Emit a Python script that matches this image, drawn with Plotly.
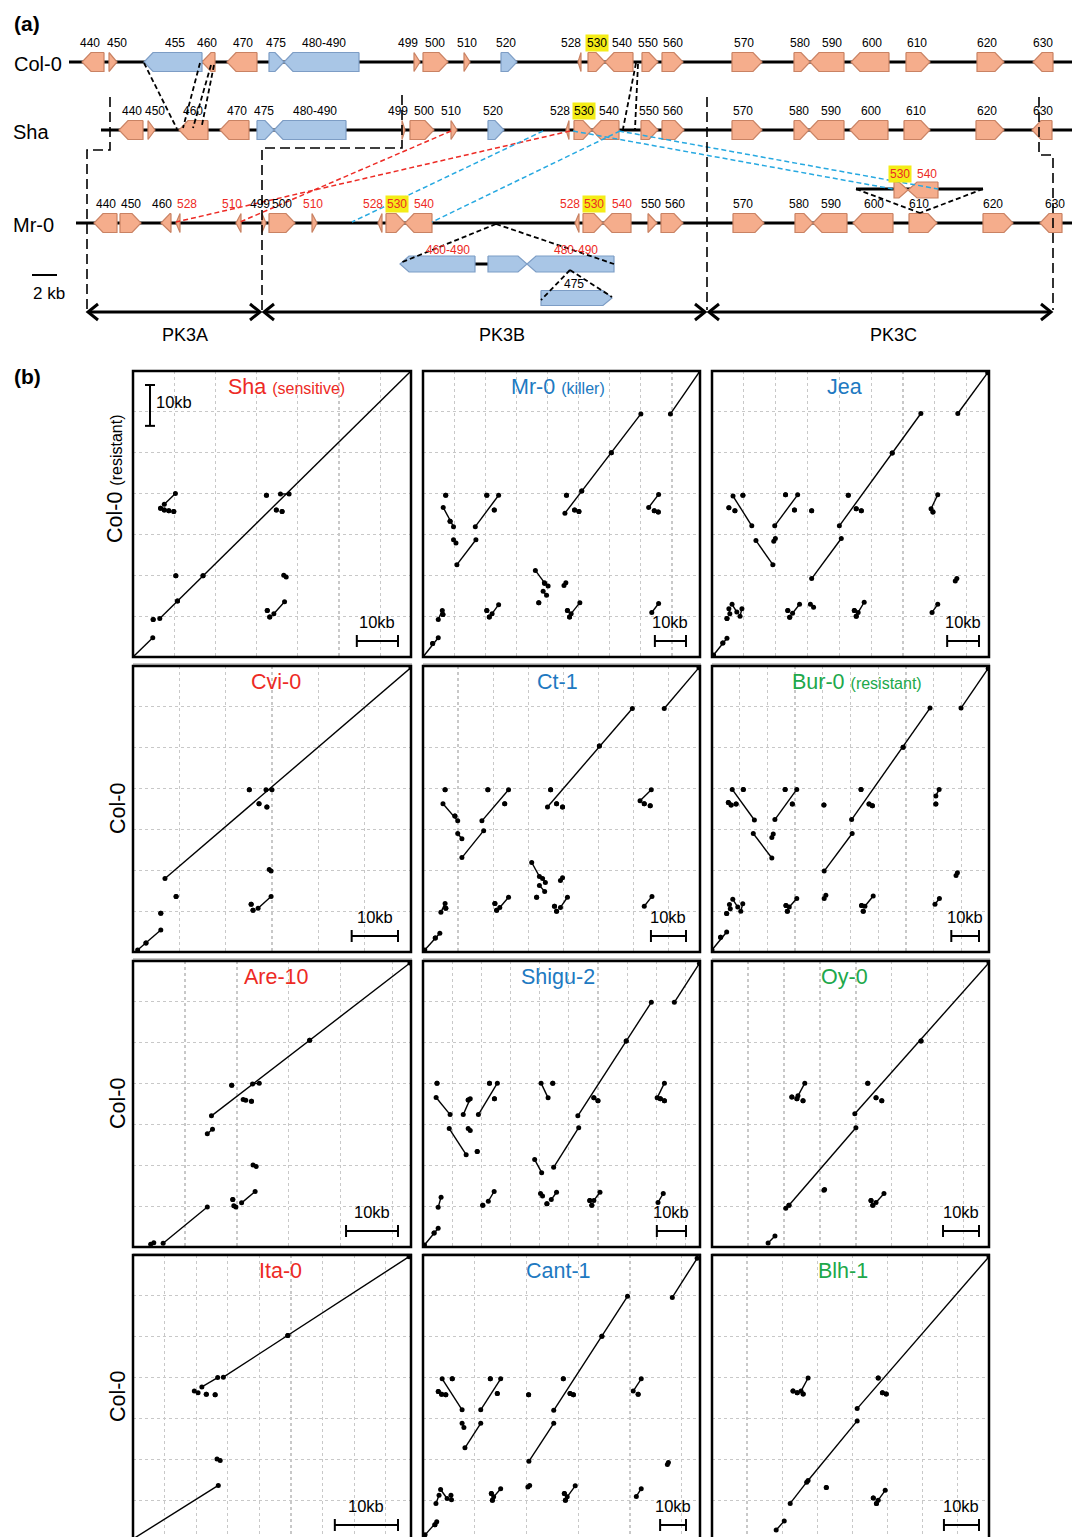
import plotly.graph_objects as go

FW, FH = 1072, 1537
FONT = "Liberation Sans, Arial, sans-serif"
RED, BLUE, GREEN, CYAN = "#ED2A24", "#2079C1", "#20A84A", "#27A9E1"
S_FILL, S_LINE = "#F5AD8C", "#C98263"
B_FILL, B_LINE = "#A9C6E6", "#7D9DC5"
HILITE = "#F4EC17"

# ---------------- (a) gene maps (diagram units) ----------------
ROW_NAMES = ["Col-0", "Sha", "Mr-0"]
ROW_Y = [62, 130, 223]
ROW_START = [69, 101, 76]

# (start, end, strand, family)  family: s = salmon, b = blue
COL0_GENES = [(82, 104, -1, "s"), (109, 117, 1, "s"), (144, 202, -1, "b"), (202, 215, -1, "s"),
              (227, 257, -1, "s"), (269, 284, 1, "b"), (284, 359, -1, "b"), (414, 420, 1, "s"),
              (423, 448, 1, "s"), (464, 470, 1, "s"), (501, 517, 1, "b"), (578, 581, -1, "s"),
              (588, 605, 1, "s"), (605, 633, -1, "s"), (642, 658, 1, "s"), (662, 683, 1, "s"),
              (732, 762, 1, "s"), (794, 810, 1, "s"), (810, 844, -1, "s"), (851, 889, -1, "s"),
              (906, 930, 1, "s"), (977, 1004, 1, "s"), (1033, 1053, -1, "s")]
SHA_GENES = [(119, 143, -1, "s"), (148, 155, 1, "s"), (179, 208, -1, "s"), (220, 249, -1, "s"),
             (257, 274, 1, "b"), (274, 346, -1, "b"), (402, 405, 1, "s"), (410, 434, 1, "s"),
             (451, 457, 1, "s"), (488, 504, 1, "b"), (566, 569, -1, "s"), (574, 592, 1, "s"),
             (592, 619, -1, "s"), (641, 658, 1, "s"), (662, 684, 1, "s"), (732, 762, 1, "s"),
             (794, 809, 1, "s"), (809, 844, -1, "s"), (850, 888, -1, "s"), (904, 930, 1, "s"),
             (976, 1004, 1, "s"), (1032, 1052, -1, "s")]
MR0_GENES = [(94, 117, -1, "s"), (120, 141, 1, "s"), (161, 171, -1, "s"), (176, 180, -1, "s"),
             (236, 241, -1, "s"), (262, 266, 1, "s"), (269, 295, 1, "s"), (312, 317, 1, "s"),
             (378, 382, -1, "s"), (386, 405, 1, "s"), (405, 432, -1, "s"), (575, 579, -1, "s"),
             (583, 603, 1, "s"), (603, 631, -1, "s"), (648, 657, 1, "s"), (661, 683, 1, "s"),
             (733, 764, 1, "s"), (795, 813, 1, "s"), (813, 847, -1, "s"), (853, 893, -1, "s"),
             (909, 937, 1, "s"), (983, 1013, 1, "s"), (1040, 1062, -1, "s")]

# label position, text, style (k black, r red, h highlighted, hr red highlighted)
COL0_LABELS = [(90, "440", "k"), (117, "450", "k"), (175, "455", "k"), (207, "460", "k"), (243, "470", "k"),
               (276, "475", "k"), (324, "480-490", "k"), (408, "499", "k"), (435, "500", "k"), (467, "510", "k"),
               (506, "520", "k"), (571, "528", "k"), (597, "530", "h"), (622, "540", "k"), (648, "550", "k"),
               (673, "560", "k"), (744, "570", "k"), (800, "580", "k"), (832, "590", "k"), (872, "600", "k"),
               (917, "610", "k"), (987, "620", "k"), (1043, "630", "k")]
SHA_LABELS = [(132, "440", "k"), (155, "450", "k"), (193, "460", "k"), (237, "470", "k"), (264, "475", "k"),
              (315, "480-490", "k"), (398, "499", "k"), (424, "500", "k"), (451, "510", "k"), (493, "520", "k"),
              (560, "528", "k"), (584, "530", "h"), (609, "540", "k"), (649, "550", "k"), (673, "560", "k"),
              (743, "570", "k"), (799, "580", "k"), (831, "590", "k"), (871, "600", "k"), (916, "610", "k"),
              (987, "620", "k"), (1043, "630", "k")]
MR0_LABELS = [(106, "440", "k"), (131, "450", "k"), (162, "460", "k"), (187, "528", "r"), (232, "510", "r"),
              (260, "499", "k"), (282, "500", "k"), (313, "510", "r"), (373, "528", "r"), (397, "530", "hr"),
              (424, "540", "r"), (570, "528", "r"), (594, "530", "hr"), (622, "540", "r"), (651, "550", "k"),
              (675, "560", "k"), (743, "570", "k"), (799, "580", "k"), (831, "590", "k"), (874, "600", "k"),
              (919, "610", "k"), (993, "620", "k"), (1055, "630", "k")]

# insertions
MR0_INS_A = [(400, 475, -1, "b"), (488, 527, 1, "b"), (527, 614, -1, "b")]
MR0_INS_B = [(541, 612, 1, "b")]
SHA_INS = [(894, 908, 1, "s"), (908, 938, -1, "s")]
INS_LABELS = [(448, 250, "460-490", "r"), (576, 250, "480-490", "r"), (574, 284, "475", "k"),
              (900, 174, "530", "hr"), (927, 174, "540", "r")]

BLACK_LINKS = [(144, 63, 177, 129), (200, 63, 183, 128), (211, 65, 193, 128), (214, 65, 202, 125),
               (636, 63, 623, 129), (638, 64, 635, 129), (496, 224, 400, 263), (496, 224, 614, 264),
               (570, 270, 541, 300), (570, 270, 612, 297), (856, 189, 920, 213), (983, 189, 920, 213)]
RED_LINKS = [(451, 131, 240, 222), (570, 131, 176, 222)]
CYAN_LINKS = [(543, 131, 352, 222), (620, 131, 432, 222), (573, 131, 893, 189), (619, 131, 938, 189)]

BOUNDARIES = [[(110, 97), (110, 150), (87, 150), (87, 310)],
              [(402, 95), (402, 148), (262, 148), (262, 310)],
              [(707, 97), (707, 310)],
              [(1039, 97), (1039, 155), (1053, 155), (1053, 310)]]
REGIONS = [("PK3A", 88, 260, 185), ("PK3B", 264, 705, 502), ("PK3C", 709, 1051, 893)]

# ---------------- (b) dot plots ----------------
NAMES = ["Sha", "Mr-0", "Jea", "Cvi-0", "Ct-1", "Bur-0", "Are-10", "Shigu-2", "Oy-0", "Ita-0", "Cant-1", "Blh-1"]
SUBS = ["(sensitive)", "(killer)", "", "", "", "(resistant)", "", "", "", "", "", ""]
CLASS = ["r", "b", "b", "r", "b", "g", "r", "b", "g", "r", "b", "g"]
QUERY_KB = [67.5, 89, 87, 60, 79, 100, 53.5, 95, 77, 44, 107, 79]   # x-axis length (kb)
GRID_KB = [10, 10, 10, 10, 10, 10, 10, 10, 10, 5, 20, 10]
COL0_KB = 70

SHA_SEGS = [(0, 0, 4.8, 4.7), (4.9, 9.2, 4.9, 9.2), (6.5, 9.4, 67.5, 70), (10.8, 13.7, 10.8, 13.7),
            (17.0, 19.9, 17.0, 19.9), (35.8, 39.9, 37.9, 39.9), (7.6, 37.4, 10.3, 40.0), (6.7, 36.4, 6.7, 36.4),
            (7.6, 36.0, 7.6, 36.0), (8.7, 35.8, 8.7, 35.8), (9.9, 35.6, 9.9, 35.6), (32.4, 39.6, 32.4, 39.6),
            (34.8, 36.0, 34.8, 36.0), (36.2, 35.6, 36.2, 35.6), (10.4, 19.9, 10.4, 19.9), (36.6, 20.0, 37.2, 19.6),
            (34.2, 10.6, 36.8, 13.5), (32.6, 11.4, 32.6, 11.4), (33.2, 9.8, 33.2, 9.8)]
MR0_SEGS = [(0, 0, 4.9, 4.7), (3.1, 3.3, 3.1, 3.3), (79.5, 59.5, 89, 70), (45.6, 35.2, 70, 59.5),
            (51, 40.6, 51, 40.6), (60.5, 50, 60.5, 50), (46.1, 39.6, 46.1, 39.6), (48.7, 36, 48.7, 36),
            (50.1, 35.6, 50.1, 35.6), (7.3, 39.6, 7.3, 39.6), (6.5, 36.6, 9.8, 31.9), (8.7, 33.2, 8.7, 33.2),
            (20.5, 39.6, 20.5, 39.6), (16.8, 31.9, 24.3, 39.6), (22.9, 36, 22.9, 36), (9.8, 28.7, 10.6, 27.9),
            (10.9, 22.6, 17, 28.7), (36.1, 21.2, 39.0, 18.2), (39.1, 18.0, 40.2, 17.4), (38.6, 16.1, 39.7, 15.1),
            (37.2, 13.3, 37.2, 13.3), (45.3, 17.5, 45.9, 18.2), (4.9, 9.2, 6.2, 11.4), (6.4, 10.4, 6.4, 10.4),
            (20.5, 11.4, 20.5, 11.4), (21.3, 9.8, 21.3, 9.8), (22.2, 10.6, 24.3, 12.8), (46.4, 11.4, 46.4, 11.4),
            (47.1, 9.8, 47.1, 9.8), (47.6, 10.6, 50.4, 13.3), (73.5, 10.9, 75.7, 13.1), (72.5, 36.6, 75.7, 39.8),
            (74.3, 35.8, 74.3, 35.8), (75.6, 35.5, 75.6, 35.5)]
JEA_SEGS = [(0.5, 0.5, 4.7, 4.6), (3.4, 3.4, 3.4, 3.4), (77.2, 59.6, 86.6, 69.6), (40, 32.1, 65.6, 59.6),
            (56.6, 49.9, 56.6, 49.9), (42.8, 39.6, 42.8, 39.6), (45.3, 36.3, 45.3, 36.3), (46.9, 35.8, 46.9, 35.8),
            (6.6, 39.4, 12.5, 32.1), (9.7, 39.6, 9.7, 39.6), (5.3, 36.5, 5.3, 36.5), (7.2, 35.8, 7.2, 35.8),
            (19.7, 32.1, 26.9, 39.7), (23.1, 39.7, 23.1, 39.7), (25.9, 36, 25.9, 36), (31.3, 35.8, 31.3, 35.8),
            (68.8, 36.3, 70.9, 39.7), (69.4, 35.5, 69.4, 35.5), (13.8, 28.5, 19.1, 22.6), (19.4, 28.3, 19.9, 29.0),
            (31.3, 19.2, 40.6, 29), (76.4, 18.6, 76.9, 19.2), (4.7, 9.4, 4.7, 9.4), (5.3, 11.8, 5.6, 10.6),
            (6.3, 12.9, 7.8, 11.0), (8.8, 10.0, 9.4, 11.8), (23.8, 11.4, 23.8, 11.4), (24.4, 9.7, 24.4, 9.7),
            (25.3, 10.7, 27.5, 12.9), (30.9, 12.9, 31.9, 12.2), (44.7, 11.4, 44.7, 11.4), (45.3, 10, 45.3, 10),
            (45.9, 10.9, 47.8, 13.4), (69.1, 10.9, 70.9, 12.9)]
CVI0_SEGS = [(1.0, 0.5, 6.0, 5.4), (2.8, 2.2, 2.8, 2.2), (6.0, 9.5, 6.0, 9.5), (9.3, 13.6, 9.3, 13.6),
             (6.9, 18.0, 60, 69.6), (28.7, 39.7, 30.0, 39.7), (25.1, 39.7, 25.1, 39.7), (27.2, 36.3, 27.2, 36.3),
             (28.9, 35.5, 28.9, 35.5), (29.4, 20.2, 29.8, 19.8), (25.5, 11.7, 25.5, 11.7), (25.9, 10.2, 25.9, 10.2),
             (27.0, 10.7, 29.8, 13.6)]
CT1_SEGS = [(0.5, 0.5, 4.8, 4.6), (3.5, 3.4, 3.5, 3.4), (68.8, 59.6, 78.7, 69.6), (35.5, 35.5, 59.7, 59.6),
            (50.3, 50.4, 50.3, 50.4), (36.4, 39.7, 36.4, 39.7), (38.1, 36.3, 38.1, 36.3), (39.8, 35.5, 39.8, 35.5),
            (6.3, 39.7, 6.3, 39.7), (5.7, 36.3, 9.9, 32.1), (9.1, 33.3, 9.1, 33.3), (18.5, 39.7, 18.5, 39.7),
            (16.8, 32.1, 24.4, 39.7), (23.3, 36.3, 23.3, 36.3), (61.9, 37, 65.1, 39.7), (63.1, 36.3, 63.1, 36.3),
            (64.8, 35.8, 64.8, 35.8), (9.9, 29, 11.1, 27.7), (11.1, 23.1, 17.3, 29.7), (31, 21.9, 33.2, 18.5),
            (34.1, 18.0, 34.9, 17.0), (33.2, 16.3, 34.7, 14.8), (32.4, 13.4, 32.4, 13.4), (39.2, 17.5, 39.8, 18.2),
            (5.1, 9.7, 6.3, 11.9), (6.5, 10.7, 6.5, 10.7), (20.5, 11.9, 20.5, 11.9), (21, 10.2, 21, 10.2),
            (21.9, 10.9, 24.4, 13.4), (37.5, 11.2, 37.5, 11.2), (38.1, 10, 38.1, 10), (39.2, 10.9, 41.2, 13.4),
            (63.1, 11.2, 65.3, 13.6)]
BUR0_SEGS = [(0, 0.5, 5.3, 4.9), (3.1, 3.6, 3.1, 3.6), (89.9, 59.7, 99.7, 69.4), (50.4, 32.4, 78.7, 59.7),
             (69, 50.1, 69, 50.1), (53.8, 39.8, 53.8, 39.8), (56.7, 36.2, 56.7, 36.2), (57.9, 35.8, 57.9, 35.8),
             (40.4, 36, 40.4, 36), (7.3, 39.8, 15.3, 32.3), (11.3, 39.8, 11.3, 39.8), (5.9, 36.6, 5.9, 36.6),
             (6.9, 36.0, 6.9, 36.0), (8.7, 36.2, 8.7, 36.2), (22.7, 32.4, 30.6, 39.8), (26.4, 39.8, 26.4, 39.8),
             (29, 36.2, 29, 36.2), (14.9, 29, 21.6, 23), (21.6, 28.0, 22.1, 28.9), (40.5, 19.8, 50.6, 29),
             (88.1, 18.7, 88.6, 19.4), (80.8, 38.2, 82, 39.8), (80.8, 36.2, 80.8, 36.2), (5.3, 9.4, 5.3, 9.4),
             (6.3, 11.6, 6.6, 10.6), (7.5, 12.9, 9.3, 11.0), (10.4, 10.0, 11.1, 11.8), (26.7, 11.4, 26.7, 11.4),
             (27.2, 10.0, 27.2, 10.0), (27.9, 11.0, 30.6, 13.1), (40.5, 13.1, 41.1, 13.9), (54, 11.4, 54, 11.4),
             (54.6, 10, 54.6, 10), (55.2, 11.2, 58.2, 13.7), (80.5, 11.7, 82.1, 13.1)]
ARE10_SEGS = [(15.1, 32.1, 53.3, 69.5), (34, 50.6, 34, 50.6), (23.0, 39.9, 24.3, 40.1), (19, 39.6, 19, 39.6),
              (21.2, 36.1, 21.7, 35.9), (22.8, 35.7, 22.8, 35.7), (14.3, 27.7, 15.3, 28.8), (23.1, 20.1, 23.7, 19.7),
              (20.9, 10.8, 23.5, 13.6), (19.2, 11.6, 19.2, 11.6), (19.4, 10.1, 19.8, 9.8), (5.8, 0.9, 14.3, 9.8),
              (3.4, 0.7, 4.0, 1.05)]
SHIGU2_SEGS = [(0.5, 0.5, 5.2, 4.6), (3.8, 3.4, 3.8, 3.4), (86.2, 59.9, 94.8, 69.4), (53.1, 32.1, 78.3, 59.9),
               (69.7, 50.4, 69.7, 50.4), (4.8, 40.1, 4.8, 40.1), (4.5, 36.6, 9.3, 32.4), (13.8, 32.4, 16.2, 36.3),
               (15.5, 36.0, 15.5, 36.0), (19.0, 32.4, 25.5, 40.1), (22.8, 40.1, 22.8, 40.1), (24.5, 36.3, 24.5, 36.3),
               (40.5, 40.1, 42.9, 36.5), (44.5, 40.1, 44.5, 40.1), (58.6, 36.5, 58.6, 36.5), (60, 35.8, 60, 35.8),
               (80.3, 36.5, 82.8, 40.1), (81.4, 36.3, 81.4, 36.3), (82.8, 35.8, 82.8, 35.8), (9.0, 29.0, 14.8, 22.6),
               (15.5, 29, 16.2, 28.5), (18.6, 23.4, 18.6, 23.4), (38.3, 21.4, 40.7, 18.2), (44.8, 19.5, 53.4, 29.2),
               (5.2, 9.7, 6.2, 12.2), (20.5, 10.2, 20.5, 10.2), (22.4, 11.2, 24.4, 13.6), (40.3, 13.1, 41.0, 12.5),
               (42.5, 10.6, 42.5, 10.6), (44.0, 11.6, 45.8, 13.4), (57.2, 11.4, 57.2, 11.4), (57.9, 10.2, 57.9, 10.2),
               (58.6, 11.4, 60.7, 13.4), (80.6, 10.9, 82.4, 13.1)]
OY0_SEGS = [(15.6, 1.0, 17.5, 2.7), (20.5, 9.5, 21.4, 10.2), (21.4, 10.2, 40, 29.2), (39.7, 32.6, 77, 69.6),
            (58.1, 50.4, 58.1, 50.4), (31.1, 13.9, 31.3, 14.1), (44.2, 11.4, 44.2, 11.4), (44.7, 10.2, 44.7, 10.2),
            (45.6, 10.9, 47.8, 13.1), (23.9, 37, 25.8, 40.1), (22.2, 36.7, 22.2, 36.7), (23.6, 36.3, 23.6, 36.3),
            (25.3, 35.8, 25.3, 35.8), (43.3, 40.1, 43.3, 40.1), (45.6, 36.5, 45.6, 36.5), (47.2, 35.8, 47.2, 35.8)]
ITA0_SEGS = [(0, 0.5, 13.5, 13.6), (14.3, 40.1, 43.7, 69.6), (24.5, 50.3, 24.5, 50.3), (10.9, 37.7, 13.4, 40.0),
             (9.7, 36.7, 10.3, 36.3), (11.6, 35.9, 11.6, 35.9), (13, 35.8, 13, 35.8), (13.3, 20.1, 13.8, 19.7)]
CANT1_SEGS = [(0.8, 1.5, 5.3, 4.7), (4.6, 4.0, 4.6, 4.0), (96.3, 59.6, 105.9, 69.2), (50.5, 32, 79, 59.9),
              (69.1, 50.1, 69.1, 50.1), (54.2, 39.7, 54.2, 39.7), (56.8, 36.1, 56.8, 36.1), (58.1, 35.8, 58.1, 35.8),
              (40.8, 35.8, 40.8, 35.8), (7.4, 39.7, 15.1, 32.1), (11.3, 39.7, 11.3, 39.7), (5.9, 36.6, 5.9, 36.6),
              (7.2, 35.9, 7.2, 35.9), (8.8, 35.8, 8.8, 35.8), (22.3, 32.1, 30, 39.7), (26, 39.7, 26, 39.7),
              (28.7, 36.1, 28.7, 36.1), (15.1, 28.8, 15.8, 27.8), (16.2, 22.8, 22.3, 28.8), (40.9, 19.5, 50.5, 28.8),
              (94.4, 18.7, 94.8, 19.2), (81.2, 36.7, 84.3, 39.7), (83.1, 35.9, 83.1, 35.9), (5, 9.2, 6.2, 11.2),
              (6.8, 12.6, 9.3, 10.4), (10.8, 11.2, 11, 10.1), (26.4, 11.6, 26.4, 11.6), (26.8, 10, 26.8, 10),
              (27.3, 10.8, 30, 12.8), (40.5, 13.2, 41.2, 13.6), (54.6, 11.6, 54.6, 11.6), (55, 10, 55, 10),
              (55.7, 10.8, 58.8, 13.5), (82.4, 10.9, 84.3, 12.8)]
BLH1_SEGS = [(18.3, 2.7, 20.6, 4.9), (22.3, 9.2, 27, 14.4), (27.4, 14.8, 41.4, 29.4), (41.4, 32.4, 79, 69.6),
             (32.6, 13.1, 32.6, 13.1), (46, 10.5, 46, 10.5), (46.9, 9.2, 46.9, 9.2), (47.4, 10, 49.4, 12.4),
             (25.4, 36.7, 27.4, 39.9), (23.1, 36.7, 23.1, 36.7), (24.3, 36.3, 24.3, 36.3), (26, 36, 26, 36),
             (47.4, 39.9, 47.4, 39.9), (48.6, 36.3, 48.6, 36.3), (49.7, 36, 49.7, 36)]
SEGS = [SHA_SEGS, MR0_SEGS, JEA_SEGS, CVI0_SEGS, CT1_SEGS, BUR0_SEGS,
        ARE10_SEGS, SHIGU2_SEGS, OY0_SEGS, ITA0_SEGS, CANT1_SEGS, BLH1_SEGS]

# ---------------- layout geometry (pixels) ----------------
COL_L = [133, 423, 712]
COL_R = [411, 700, 989]
ROW_T = [371, 666, 961, 1255]
ROW_B = [657, 952, 1247, 1541]
TITLE_X = [286, 558, 844, 276, 557, 857, 276, 558, 844, 280, 558, 843]
BAR_MARGIN = [13, 14, 10]
A_HEIGHT = 350

fig = go.Figure()
ann = []
shapes = []


def py(v):
    return 1 - v / FH


def note(**kw):
    kw.setdefault("xanchor", "center")
    kw.setdefault("yanchor", "middle")
    kw.setdefault("showarrow", False)
    ann.append(kw)


# ===== (a) =====
def gene_poly(a, b, d, yc, h, tip=9):
    t = min(tip, b - a)
    if d > 0:
        xs = [a, b - t, b, b - t, a, a]
    else:
        xs = [b, a + t, a, a + t, b, b]
    ys = [yc - h, yc - h, yc, yc + h, yc + h, yc - h]
    return xs, ys


def add_line(xs, ys, color="black", width=3, dash=None):
    fig.add_trace(go.Scatter(x=xs, y=ys, mode="lines", line=dict(color=color, width=width, dash=dash),
                             xaxis="x", yaxis="y", hoverinfo="skip", showlegend=False))


def add_genes(genes, yc, h):
    for fam, fc, lc in (("s", S_FILL, S_LINE), ("b", B_FILL, B_LINE)):
        xs, ys = [], []
        for a, b, d, f in genes:
            if f == fam:
                gx, gy = gene_poly(a, b, d, yc, h)
                xs += gx + [None]
                ys += gy + [None]
        if xs:
            fig.add_trace(go.Scatter(x=xs, y=ys, mode="lines", fill="toself", fillcolor=fc,
                                     line=dict(color=lc, width=1.2), xaxis="x", yaxis="y",
                                     hoverinfo="skip", showlegend=False))


def label(x, y, text, style, size=12):
    col = RED if "r" in style else "black"
    d = dict(x=x, y=y, xref="x", yref="y", text=text, font=dict(family=FONT, size=size, color=col))
    if "h" in style:
        d.update(bgcolor=HILITE, borderpad=1)
    note(**d)


for ys_, xs0 in zip(ROW_Y, ROW_START):
    add_line([xs0, FW], [ys_, ys_], width=3)
add_line([475, 488], [264, 264], width=3)
add_line([856, 983], [189, 189], width=3)

for genes, yc in zip([COL0_GENES, SHA_GENES, MR0_GENES], ROW_Y):
    add_genes(genes, yc, 9.5)
add_genes(MR0_INS_A, 264, 8)
add_genes(MR0_INS_B, 298, 7.5)
add_genes(SHA_INS, 190, 8)

for links, col, w in ((BLACK_LINKS, "black", 1.8), (RED_LINKS, RED, 1.5), (CYAN_LINKS, CYAN, 1.5)):
    xs, ys = [], []
    for x0, y0, x1, y1 in links:
        xs += [x0, x1, None]
        ys += [y0, y1, None]
    add_line(xs, ys, color=col, width=w, dash="5px,3px")

for path in BOUNDARIES:
    add_line([p[0] for p in path], [p[1] for p in path], width=1.6, dash="10px,5px")

ARR_Y = 312
for name, x0, x1, xl in REGIONS:
    add_line([x0, x1], [ARR_Y, ARR_Y], width=3)
    add_line([x0 + 10, x0, x0 + 10], [ARR_Y - 8, ARR_Y, ARR_Y + 8], width=3)
    add_line([x1 - 10, x1, x1 - 10], [ARR_Y - 8, ARR_Y, ARR_Y + 8], width=3)
    note(x=xl, y=335, xref="x", yref="y", text=name, font=dict(family=FONT, size=18, color="black"))

add_line([32, 57], [275, 275], width=2)
note(x=49, y=293, xref="x", yref="y", text="2 kb", font=dict(family=FONT, size=17, color="black"))

for labels, yc in zip([COL0_LABELS, SHA_LABELS, MR0_LABELS], ROW_Y):
    for x, t, s in labels:
        label(x, yc - 19.5, t, s)
for x, y, t, s in INS_LABELS:
    label(x, y, t, s)

for name, yc, xc in zip(ROW_NAMES, ROW_Y, [38, 31, 33]):
    note(x=xc, y=yc + 2, xref="x", yref="y", text=name, font=dict(family=FONT, size=20, color="black"))
note(x=27, y=23, xref="x", yref="y", text="<b>(a)</b>", font=dict(family=FONT, size=21, color="black"))
note(x=27 / FW, y=py(377), xref="paper", yref="paper", text="<b>(b)</b>",
     font=dict(family=FONT, size=21, color="black"))

layout_axes = {
    "xaxis": dict(domain=[0, 1], range=[0, FW], visible=False, fixedrange=True),
    "yaxis": dict(domain=[1 - A_HEIGHT / FH, 1], range=[A_HEIGHT, 0], visible=False, fixedrange=True),
}

# ===== (b) =====
CLASS_COLOR = {"r": RED, "b": BLUE, "g": GREEN}
for i in range(12):
    r, c = divmod(i, 3)
    n = i + 2
    L, R, T, B = COL_L[c], COL_R[c], ROW_T[r], ROW_B[r]
    sy = (B - T) / COL0_KB
    sx = (R - L) / QUERY_KB[i]
    ylo = max(0, (B - FH) / sy)
    ydom = [max(0, py(B)), py(T)]
    ax = dict(showgrid=True, gridcolor="#c8c8c8", griddash="dot", gridwidth=1.2, zeroline=False,
              showticklabels=False, ticks="", showline=False, fixedrange=True)
    layout_axes[f"xaxis{n}"] = dict(ax, domain=[L / FW, R / FW], range=[0, QUERY_KB[i]], tick0=0,
                                    dtick=GRID_KB[i], anchor=f"y{n}")
    layout_axes[f"yaxis{n}"] = dict(ax, domain=ydom, range=[ylo, COL0_KB], tick0=0, dtick=10,
                                    anchor=f"x{n}")
    xs, ys = [], []
    for x0, y0, x1, y1 in SEGS[i]:
        xs += [x0, x1, None]
        ys += [y0, y1, None]
    fig.add_trace(go.Scatter(x=xs, y=ys, mode="lines+markers", line=dict(color="black", width=1.4),
                             marker=dict(color="black", size=5), xaxis=f"x{n}", yaxis=f"y{n}",
                             hoverinfo="skip", showlegend=False))
    xb1 = QUERY_KB[i] - BAR_MARGIN[c] / sx
    xb0 = xb1 - 10
    yb = 16 / sy
    hs = 6 / sy
    fig.add_trace(go.Scatter(x=[xb0, xb1, None, xb0, xb0, None, xb1, xb1],
                             y=[yb, yb, None, yb - hs, yb + hs, None, yb - hs, yb + hs],
                             mode="lines", line=dict(color="black", width=2), xaxis=f"x{n}", yaxis=f"y{n}",
                             hoverinfo="skip", showlegend=False))
    note(x=(xb0 + xb1) / 2, y=yb + 19 / sy, xref=f"x{n}", yref=f"y{n}", text="10kb",
         font=dict(family=FONT, size=16.5, color="black"))
    shapes.append(dict(type="rect", xref=f"x{n} domain", yref=f"y{n} domain", x0=0, x1=1,
                       y0=(0 if B <= FH else -0.2), y1=1, line=dict(color="black", width=2.5),
                       fillcolor="rgba(0,0,0,0)", layer="above"))
    if B + 7 < FH:
        shapes.append(dict(type="line", xref="paper", yref="paper", x0=L / FW, x1=(R + 1) / FW,
                           y0=py(B + 7), y1=py(B + 7), line=dict(color="#b5b5b5", width=1.5)))
    col = CLASS_COLOR[CLASS[i]]
    txt = NAMES[i] + (f" <span style='font-size:16px'>{SUBS[i]}</span>" if SUBS[i] else "")
    note(x=TITLE_X[i] / FW, y=py(T + 16), xref="paper", yref="paper", text=txt,
         font=dict(family=FONT, size=21.5, color=col))

# Sha vertical 10 kb bar
sx0 = (COL_R[0] - COL_L[0]) / QUERY_KB[0]
sy0 = (ROW_B[0] - ROW_T[0]) / COL0_KB
vx = 17 / sx0
vy1 = (ROW_B[0] - 385) / sy0
vy0 = vy1 - 10
hw = 5 / sx0
fig.add_trace(go.Scatter(x=[vx, vx, None, vx - hw, vx + hw, None, vx - hw, vx + hw],
                         y=[vy0, vy1, None, vy0, vy0, None, vy1, vy1], mode="lines",
                         line=dict(color="black", width=2), xaxis="x2", yaxis="y2",
                         hoverinfo="skip", showlegend=False))
note(x=vx + 4 / sx0, y=(vy0 + vy1) / 2 + 0.8, xref="x2", yref="y2", text="10kb", xanchor="left",
     font=dict(family=FONT, size=16.5, color="black"))

row_label_y = [479, 809, 1104, 1397]
for r in range(4):
    txt = "Col-0" + (" <span style='font-size:16px'>(resistant)</span>" if r == 0 else "")
    note(x=(115 if r == 0 else 118) / FW, y=py(row_label_y[r]), xref="paper", yref="paper",
         text=txt, textangle=-90, font=dict(family=FONT, size=21.5, color="black"))

fig.update_layout(width=FW, height=FH, margin=dict(l=0, r=0, t=0, b=0), autosize=False,
                  paper_bgcolor="white", plot_bgcolor="white", showlegend=False,
                  annotations=ann, shapes=shapes, **layout_axes)
fig.write_html("out.html", config={"displayModeBar": False, "staticPlot": True},
               post_script="document.body.style.margin='0';document.body.style.padding='0';")
